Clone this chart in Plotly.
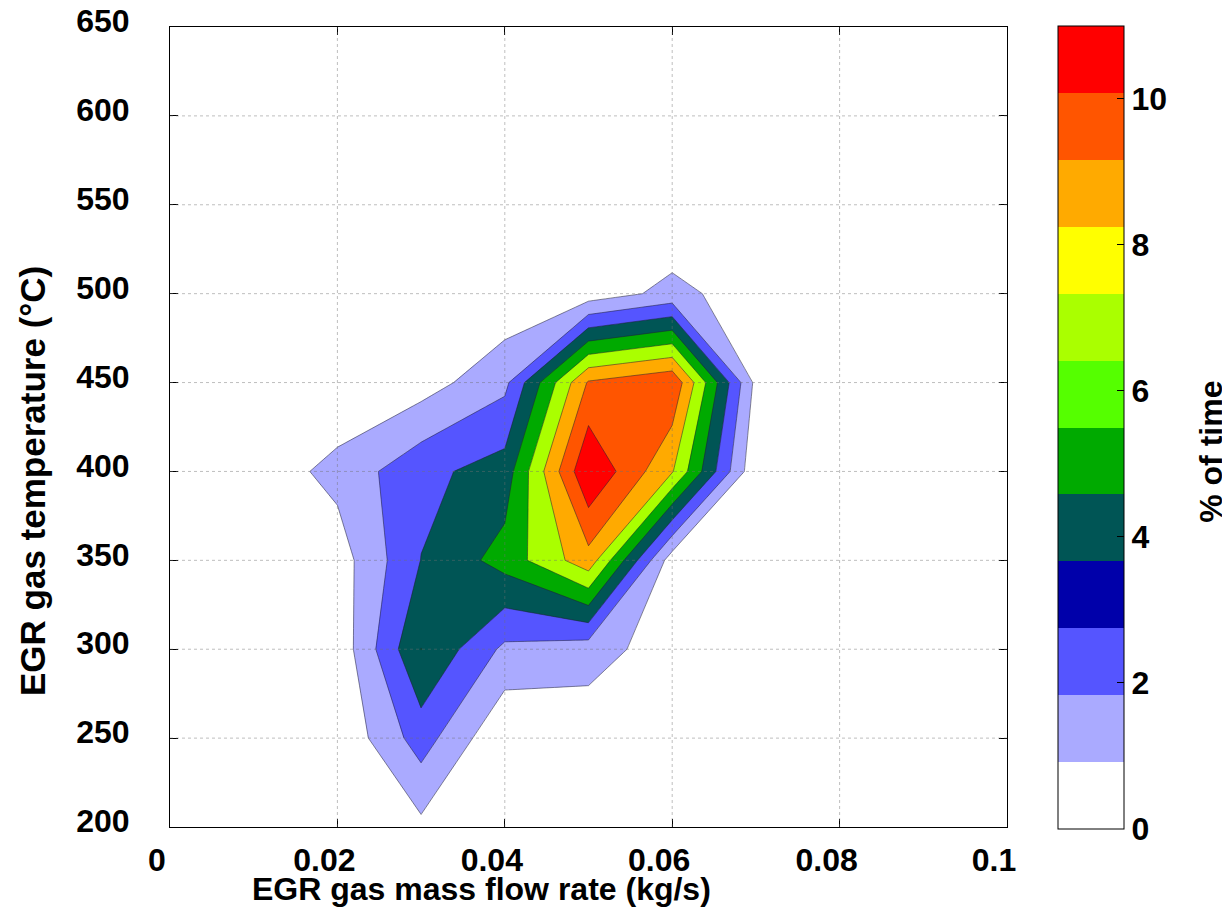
import plotly.graph_objects as go

# ---------------- data ----------------
X_FLOW = [0.0, 0.01, 0.02, 0.03, 0.04, 0.05, 0.06, 0.07, 0.08, 0.09, 0.10]   # kg/s
Y_TEMP = [200, 250, 300, 350, 400, 450, 500, 550, 600, 650]                  # degC

# % of time, rows follow Y_TEMP, columns follow X_FLOW
PCT_200 = [0, 0, 0.00, 1.04, 0.00, 0.00, 0.00, 0.00, 0, 0, 0]
PCT_250 = [0, 0, 0.18, 3.41, 0.11, 0.46, 0.00, 0.00, 0, 0, 0]
PCT_300 = [0, 0, 0.40, 5.52, 2.45, 2.01, 0.63, 0.00, 0, 0, 0]
PCT_350 = [0, 0, 0.68, 4.155, 6.05, 9.10, 0.60, 0.00, 0, 0, 0]
PCT_400 = [0, 0.51, 1.80, 3.74, 4.73, 12.30, 8.36, 0.26, 0, 0, 0]
PCT_450 = [0, 0, 0.24, 0.73, 2.39, 9.78, 10.80, 1.00, 0, 0, 0]
PCT_500 = [0, 0, 0.00, 0.00, 0.28, 0.60, 1.80, 0.62, 0, 0, 0]
PCT_550 = [0, 0, 0, 0, 0, 0, 0, 0, 0, 0, 0]
PCT_600 = [0, 0, 0, 0, 0, 0, 0, 0, 0, 0, 0]
PCT_650 = [0, 0, 0, 0, 0, 0, 0, 0, 0, 0, 0]
PCT_TIME = [PCT_200, PCT_250, PCT_300, PCT_350, PCT_400,
            PCT_450, PCT_500, PCT_550, PCT_600, PCT_650]

# contour levels
LEVEL_START = 1.375
LEVEL_END = 11.0
LEVEL_STEP = 1.375

# fill colour of each band (below first level, then above each level)
BAND_COLORS = ['#FFFFFF', '#AAAAFF', '#5555FF', '#005555', '#00AA00',
               '#AAFF00', '#FFAA00', '#FF5500', '#FF0000']

# colorbar colormap (12 entries over 0..11)
CBAR_COLORS = ['#FFFFFF', '#AAAAFF', '#5555FF', '#0000AA', '#005555', '#00AA00',
               '#55FF00', '#AAFF00', '#FFFF00', '#FFAA00', '#FF5500', '#FF0000']
CBAR_MIN, CBAR_MAX = 0, 11
CBAR_TICKS = [0, 2, 4, 6, 8, 10]
CBAR_TICKTEXT = ['0', '2', '4', '6', '8', '10']

X_TICKS = [0, 0.02, 0.04, 0.06, 0.08, 0.1]
X_TICKTEXT = ['0', '0.02', '0.04', '0.06', '0.08', '0.1']
Y_TICKS = [200, 250, 300, 350, 400, 450, 500, 550, 600, 650]
Y_TICKTEXT = [str(v) for v in Y_TICKS]

X_TITLE = 'EGR gas mass flow rate (kg/s)'
Y_TITLE = 'EGR gas temperature (°C)'
CBAR_TITLE = '% of time'

# ---------------- styling helpers ----------------
FONT = dict(family='Liberation Sans, Arial, sans-serif', size=32, color='black', weight='bold')
YTITLE_FONT = dict(FONT, size=35)


def band_scale(colors):
    n = len(colors) - 1
    out = []
    for k, c in enumerate(colors):
        lo = max(0.0, (k - 0.5) / n)
        hi = min(1.0, (k + 0.5) / n)
        out.append([lo, c])
        out.append([hi, c])
    return out


def stepped_scale(colors):
    n = len(colors)
    out = []
    for i, c in enumerate(colors):
        out.append([i / n, c])
        out.append([(i + 1) / n, c])
    return out


fig = go.Figure()

fig.add_trace(go.Contour(
    x=X_FLOW, y=Y_TEMP, z=PCT_TIME,
    autocontour=False,
    contours=dict(start=LEVEL_START, end=LEVEL_END, size=LEVEL_STEP,
                  coloring='fill', showlines=True),
    colorscale=band_scale(BAND_COLORS),
    showscale=False,
    line=dict(color='rgba(30,30,50,0.65)', width=0.8, smoothing=0),
    hoverinfo='skip',
))

# invisible trace that only carries the colorbar
fig.add_trace(go.Scatter(
    x=[-1], y=[-1], mode='markers', showlegend=False, hoverinfo='skip',
    marker=dict(
        size=1, color=[CBAR_MIN], cmin=CBAR_MIN, cmax=CBAR_MAX,
        colorscale=stepped_scale(CBAR_COLORS), showscale=True,
        colorbar=dict(
            thickness=66, thicknessmode='pixels',
            len=803, lenmode='pixels',
            x=1.0609, xanchor='left', xpad=0,
            y=0.4994, yanchor='middle', ypad=0,
            outlinecolor='black', outlinewidth=1,
            tickvals=CBAR_TICKS, ticktext=CBAR_TICKTEXT,
            ticks='inside', ticklen=7, tickcolor='black',
            tickfont=FONT,
        ),
    ),
))

# grid lines drawn above the filled contours (as in the reference)
GRID_STYLE = dict(color='rgba(110,110,110,0.45)', width=1, dash='dot')
for xv in X_TICKS[1:-1]:
    fig.add_shape(type='line', xref='x', yref='paper', x0=xv, x1=xv, y0=0, y1=1,
                  line=GRID_STYLE, layer='above')
for yv in Y_TICKS[1:-1]:
    fig.add_shape(type='line', xref='paper', yref='y', x0=0, x1=1, y0=yv, y1=yv,
                  line=GRID_STYLE, layer='above')

AX = dict(showline=True, linecolor='black', linewidth=1, mirror='ticks',
          ticks='inside', ticklen=8, tickcolor='black', showgrid=False,
          zeroline=False, tickfont=FONT, automargin=False)

# the page body has an 8 px margin, so the figure is sized to fit the window
fig.update_layout(
    width=1222, height=915,
    margin=dict(l=162, r=223, t=19, b=96, autoexpand=False),
    paper_bgcolor='white', plot_bgcolor='white',
    showlegend=False,
    xaxis=dict(range=[0, 0.1], tickvals=X_TICKS, ticktext=X_TICKTEXT,
               ticklabelstandoff=5, ticklabelshift=-13, **AX),
    yaxis=dict(range=[200, 650], tickvals=Y_TICKS, ticktext=Y_TICKTEXT,
               ticklabelstandoff=33, ticklabelshift=-6,
               ticklabeloverflow='allow', **AX),
    annotations=[
        dict(text=X_TITLE, xref='paper', yref='paper', x=0.3716, y=-0.0775,
             xanchor='center', yanchor='middle', showarrow=False, font=FONT),
        dict(text=Y_TITLE, xref='paper', yref='paper', x=-0.1649, y=0.4325,
             xanchor='center', yanchor='middle', showarrow=False, font=YTITLE_FONT,
             textangle=-90),
        dict(text=CBAR_TITLE, xref='paper', yref='paper', x=1.2437, y=0.469,
             xanchor='center', yanchor='middle', showarrow=False, font=FONT,
             textangle=-90),
    ],
)

fig.write_html('out.html')
